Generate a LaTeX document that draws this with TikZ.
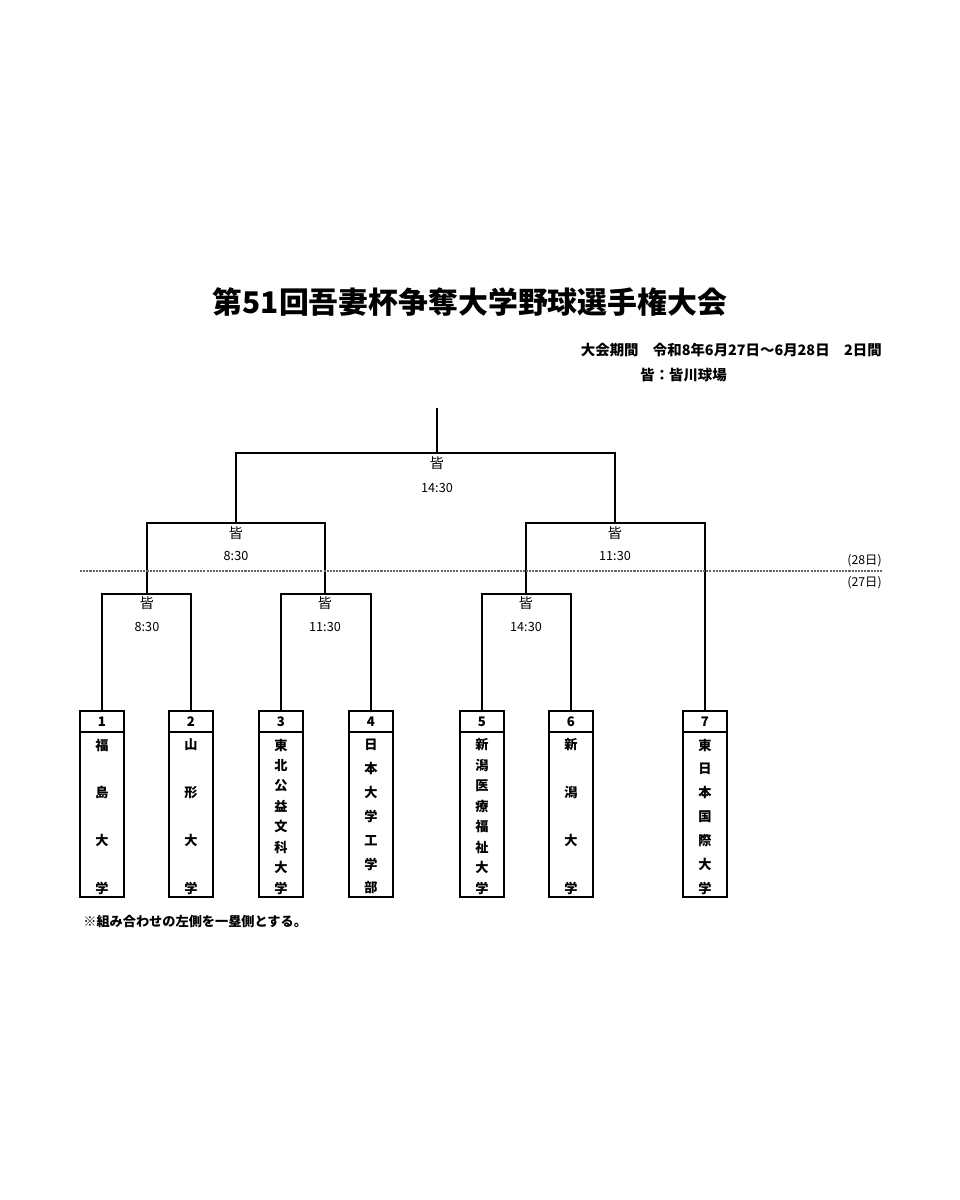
\documentclass[tikz,border=0pt]{standalone}
\usepackage{fontspec}
\setmainfont{Noto Sans CJK JP}
\usetikzlibrary{positioning}

\tikzset{
  bracket/.style={line width=0.8pt},
  boxline/.style={line width=1.1pt},
  teambox/.style={draw, line width=1.1pt, minimum width=0.88cm, minimum height=3.72cm, inner sep=0pt},
  numtext/.style={font=\fontsize{7.5}{8}\selectfont\bfseries, inner sep=0pt},
  nametext/.style={font=\fontsize{7.5}{8}\selectfont\bfseries, inner sep=0pt},
  venuetext/.style={font=\fontsize{8}{9}\selectfont, inner sep=0pt},
  timetext/.style={font=\fontsize{7.2}{8}\selectfont, inner sep=0pt},
  daytext/.style={font=\fontsize{7}{8}\selectfont, inner sep=0pt},
}
% one team: x, number, count of characters, characters
\newcommand{\team}[4]{%
  \node[teambox] (t#2) at (#1,804) {};
  \draw[boxline] ([yshift=-0.44cm]t#2.north west) -- ([yshift=-0.44cm]t#2.north east);
  \node[numtext] (n#2) at (#1,722) {#2};
  \foreach \c [count=\i] in {#4}
    \node[nametext] (t#2c\i) at (#1,{745+(\i-1)*143/(#3-1)}) {\c};
}

\begin{document}
\begin{tikzpicture}[x=0.02cm, y=-0.02cm]
  \useasboundingbox (0,0) rectangle (960,1200);
  % heading
  \node[font=\fontsize{17}{20}\selectfont\bfseries] (title) at (470,302) {第51回吾妻杯争奪大学野球選手権大会};
  \node[anchor=east, inner sep=0pt, font=\fontsize{8.2}{10}\selectfont\bfseries] (period) at (882,350) {大会期間　令和8年6月27日～6月28日　2日間};
  \node[anchor=west, inner sep=0pt, font=\fontsize{8.2}{10}\selectfont\bfseries] (ground) at (640,375) {皆：皆川球場};
  % teams
  \team{102}{1}{4}{福,島,大,学}
  \team{191}{2}{4}{山,形,大,学}
  \team{281}{3}{8}{東,北,公,益,文,科,大,学}
  \team{371}{4}{7}{日,本,大,学,工,学,部}
  \team{482}{5}{8}{新,潟,医,療,福,祉,大,学}
  \team{571}{6}{4}{新,潟,大,学}
  \team{705}{7}{7}{東,日,本,国,際,大,学}
  % bracket points
  \coordinate (q1) at (147,594);
  \coordinate (q2) at (325,594);
  \coordinate (q3) at (526,594);
  \coordinate (s1) at (236,523);
  \coordinate (s2) at (615,523);
  \coordinate (f) at (437,453);
  \coordinate (top) at (437,408);
  % first round (27th)
  \draw[bracket] (t1.north) |- (q1) -| (t2.north);
  \draw[bracket] (t3.north) |- (q2) -| (t4.north);
  \draw[bracket] (t5.north) |- (q3) -| (t6.north);
  % semi finals and final (28th)
  \draw[bracket] (q1) |- (s1) -| (q2);
  \draw[bracket] (q3) |- (s2) -| (t7.north);
  \draw[bracket] (s1) |- (f) -| (s2);
  \draw[bracket] (f) -- (top);
  % games
  \node[venuetext] (g1v) at (147,603) {皆};
  \node[timetext] (g1t) at (147,627) {8:30};
  \node[venuetext] (g2v) at (325,603) {皆};
  \node[timetext] (g2t) at (325,627) {11:30};
  \node[venuetext] (g3v) at (526,603) {皆};
  \node[timetext] (g3t) at (526,627) {14:30};
  \node[venuetext] (g4v) at (236,533) {皆};
  \node[timetext] (g4t) at (236,556) {8:30};
  \node[venuetext] (g5v) at (615,533) {皆};
  \node[timetext] (g5t) at (615,556) {11:30};
  \node[venuetext] (g6v) at (437,463) {皆};
  \node[timetext] (g6t) at (437,488) {14:30};
  % day line
  \coordinate (dl) at (80,571);
  \coordinate (dr) at (882,571);
  \draw[line width=0.6pt, black!60, dash pattern=on 1.2pt off 0.6pt] (dl) -- (dr);
  \node[anchor=east, daytext] (d28) at (882,561) {(28日)};
  \node[anchor=east, daytext] (d27) at (882,583) {(27日)};
  % note
  \node[anchor=west, inner sep=0pt, font=\fontsize{7.5}{9}\selectfont\bfseries] (note) at (83,921) {※組み合わせの左側を一塁側とする。};
\end{tikzpicture}
\end{document}
